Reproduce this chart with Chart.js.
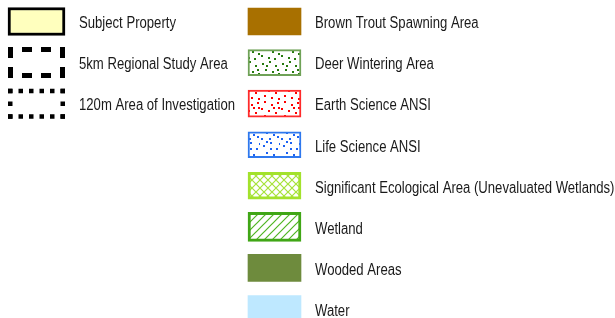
<!DOCTYPE html>
<html>
<head>
<meta charset="utf-8">
<script src="https://cdn.jsdelivr.net/npm/chart.js@4.4.1/dist/chart.umd.min.js"></script>
<style>
  html, body { margin: 0; padding: 0; background: #fff; }
  canvas { display: block; }
</style>
</head>
<body>
<canvas id="legendChart" width="615" height="318"></canvas>
<script>
// legend entries, one row each
const leftLabels = ['Subject Property', '5km Regional Study Area', '120m Area of Investigation'];
const rightLabels = [
  'Brown Trout Spawning Area',
  'Deer Wintering Area',
  'Earth Science ANSI',
  'Life Science ANSI',
  'Significant Ecological Area (Unevaluated Wetlands)',
  'Wetland',
  'Wooded Areas',
  'Water'
];
const leftRows = [0, 1, 2];
const rightRows = [0, 1, 2, 3, 4, 5, 6, 7];

// swatch columns on the x scale
const columns = {
  left: { from: 8, to: 65 },
  right: { from: 248, to: 301 }
};

const canvas = document.getElementById('legendChart');
const ctx = canvas.getContext('2d');

function tile(size, draw) {
  const c = document.createElement('canvas');
  c.width = size;
  c.height = size;
  const g = c.getContext('2d');
  g.fillStyle = '#fff';
  g.fillRect(0, 0, size, size);
  draw(g, size);
  return ctx.createPattern(c, 'repeat');
}

function dots(color, spots) {
  return tile(20, (g) => {
    g.fillStyle = color;
    spots.forEach(([x, y]) => g.fillRect(x, y, 2, 2));
  });
}

const spotsA = [[2, 3], [9, 1], [15, 5], [5, 9], [12, 11], [18, 13], [1, 15], [8, 17], [14, 18], [17, 9], [6, 5]];
const spotsB = [[4, 1], [11, 4], [17, 2], [1, 8], [8, 10], [15, 12], [4, 15], [11, 17], [18, 18], [13, 7], [18, 7]];
const spotsC = [[3, 5], [10, 2], [16, 8], [6, 12], [13, 14], [1, 18], [19, 3], [9, 18], [17, 16], [6, 1], [10, 8]];

const crossHatch = tile(8, (g, s) => {
  g.strokeStyle = '#A6E23A';
  g.lineWidth = 1.2;
  g.beginPath();
  g.moveTo(0, 0); g.lineTo(s, s);
  g.moveTo(s, 0); g.lineTo(0, s);
  g.stroke();
});

const diagHatch = tile(8, (g, s) => {
  g.strokeStyle = '#4FB523';
  g.lineWidth = 1.2;
  g.beginPath();
  g.moveTo(-1, s + 1); g.lineTo(s + 1, -1);
  g.moveTo(-1, 1); g.lineTo(1, -1);
  g.moveTo(s - 1, s + 1); g.lineTo(s + 1, s - 1);
  g.stroke();
});

const leftStyles = [
  { fill: '#FFFFBE', border: '#000', borderWidth: 3, thickness: 28 },
  { fill: 'transparent', thickness: 31, dash: { color: '#000', width: 5, on: 12, off: 9, corners: 'half' } },
  { fill: 'transparent', thickness: 30, dash: { color: '#000', width: 4.5, on: 4.5, off: 6.5, corners: 'full' } }
];

const rightStyles = [
  { fill: '#A87000', thickness: 27 },
  { fill: dots('#267A0E', spotsA), border: '#6FA257', borderWidth: 2, thickness: 26 },
  { fill: dots('#FF0000', spotsB), border: '#FF2A2A', borderWidth: 2, thickness: 27 },
  { fill: dots('#1C62F2', spotsC), border: '#2E78EE', borderWidth: 2, thickness: 26 },
  { fill: crossHatch, border: '#A3E22C', borderWidth: 3, thickness: 27 },
  { fill: diagHatch, border: '#40A616', borderWidth: 3, thickness: 29 },
  { fill: '#6E8B3D', thickness: 27 },
  { fill: '#BEE8FF', thickness: 27 }
];

function makeDataset(label, row, col, style) {
  return {
    label: label,
    data: [{ x: [col.from, col.to], y: row }],
    backgroundColor: style.fill,
    borderColor: style.border || 'transparent',
    borderWidth: style.borderWidth || 0,
    borderSkipped: false,
    barThickness: style.thickness,
    grouped: false,
    dash: style.dash
  };
}

const datasets = [
  ...leftLabels.map((l, i) => makeDataset(l, leftRows[i], columns.left, leftStyles[i])),
  ...rightLabels.map((l, i) => makeDataset(l, rightRows[i], columns.right, rightStyles[i]))
];

// font: narrow sans if installed, otherwise squeeze Liberation Sans
ctx.font = '16px "Liberation Sans Narrow"';
const narrowW = ctx.measureText('Subject Property').width;
ctx.font = '16px "Liberation Sans"';
const wideW = ctx.measureText('Subject Property').width;
const hasNarrow = narrowW < wideW * 0.9;

function strokeSide(c, x0, y0, x1, y1, d) {
  const len = Math.hypot(x1 - x0, y1 - y0);
  const period = d.on + d.off;
  let on = d.on, gap = d.off, offset = 0;
  if (d.corners === 'half') {
    // half dashes at both ends, fixed gap, stretch the dashes
    const n = Math.max(1, Math.round(len / period));
    on = (len - n * d.off) / n;
    offset = on / 2;
  } else {
    const n = Math.max(1, Math.round((len - d.on) / period));
    gap = (len - (n + 1) * d.on) / n;
  }
  c.setLineDash([on, gap]);
  c.lineDashOffset = offset;
  c.beginPath();
  c.moveTo(x0, y0);
  c.lineTo(x1, y1);
  c.stroke();
}

function dashedBox(c, left, top, right, bottom, d) {
  const h = d.width / 2;
  c.save();
  c.strokeStyle = d.color;
  c.lineWidth = d.width;
  c.lineCap = 'butt';
  strokeSide(c, left, top + h, right, top + h, d);
  strokeSide(c, left, bottom - h, right, bottom - h, d);
  strokeSide(c, left + h, top, left + h, bottom, d);
  strokeSide(c, right - h, top, right - h, bottom, d);
  c.restore();
}

function drawLabel(c, text, x, y) {
  c.save();
  c.fillStyle = '#1a1a1a';
  c.textAlign = 'left';
  c.textBaseline = 'alphabetic';
  if (hasNarrow) {
    c.font = '16px "Liberation Sans Narrow"';
    c.fillText(text, x, y);
  } else {
    c.font = '16px "Liberation Sans", Arial, sans-serif';
    c.translate(x, y);
    c.scale(0.82, 1);
    c.fillText(text, 0, 0);
  }
  c.restore();
}

const legendMarks = {
  id: 'legendMarks',
  afterDatasetsDraw(chart) {
    const c = chart.ctx;
    chart.data.datasets.forEach((ds, i) => {
      const bar = chart.getDatasetMeta(i).data[0];
      const { x, y, base, height } = bar.getProps(['x', 'y', 'base', 'height'], true);
      const left = Math.min(x, base);
      const right = Math.max(x, base);
      if (ds.dash) dashedBox(c, left, y - height / 2, right, y + height / 2, ds.dash);
      drawLabel(c, ds.label, right + 14, y + 6.8);
    });
  }
};

new Chart(canvas, {
  type: 'bar',
  data: { datasets: datasets },
  options: {
    indexAxis: 'y',
    responsive: false,
    animation: false,
    events: [],
    layout: { padding: 0 },
    scales: {
      x: { type: 'linear', min: 0, max: 615, offset: false, display: false },
      y: { type: 'linear', min: -0.5235, max: 7.219, reverse: true, offset: false, display: false }
    },
    plugins: {
      legend: { display: false },
      tooltip: { enabled: false }
    }
  },
  plugins: [legendMarks]
});
</script>
</body>
</html>
